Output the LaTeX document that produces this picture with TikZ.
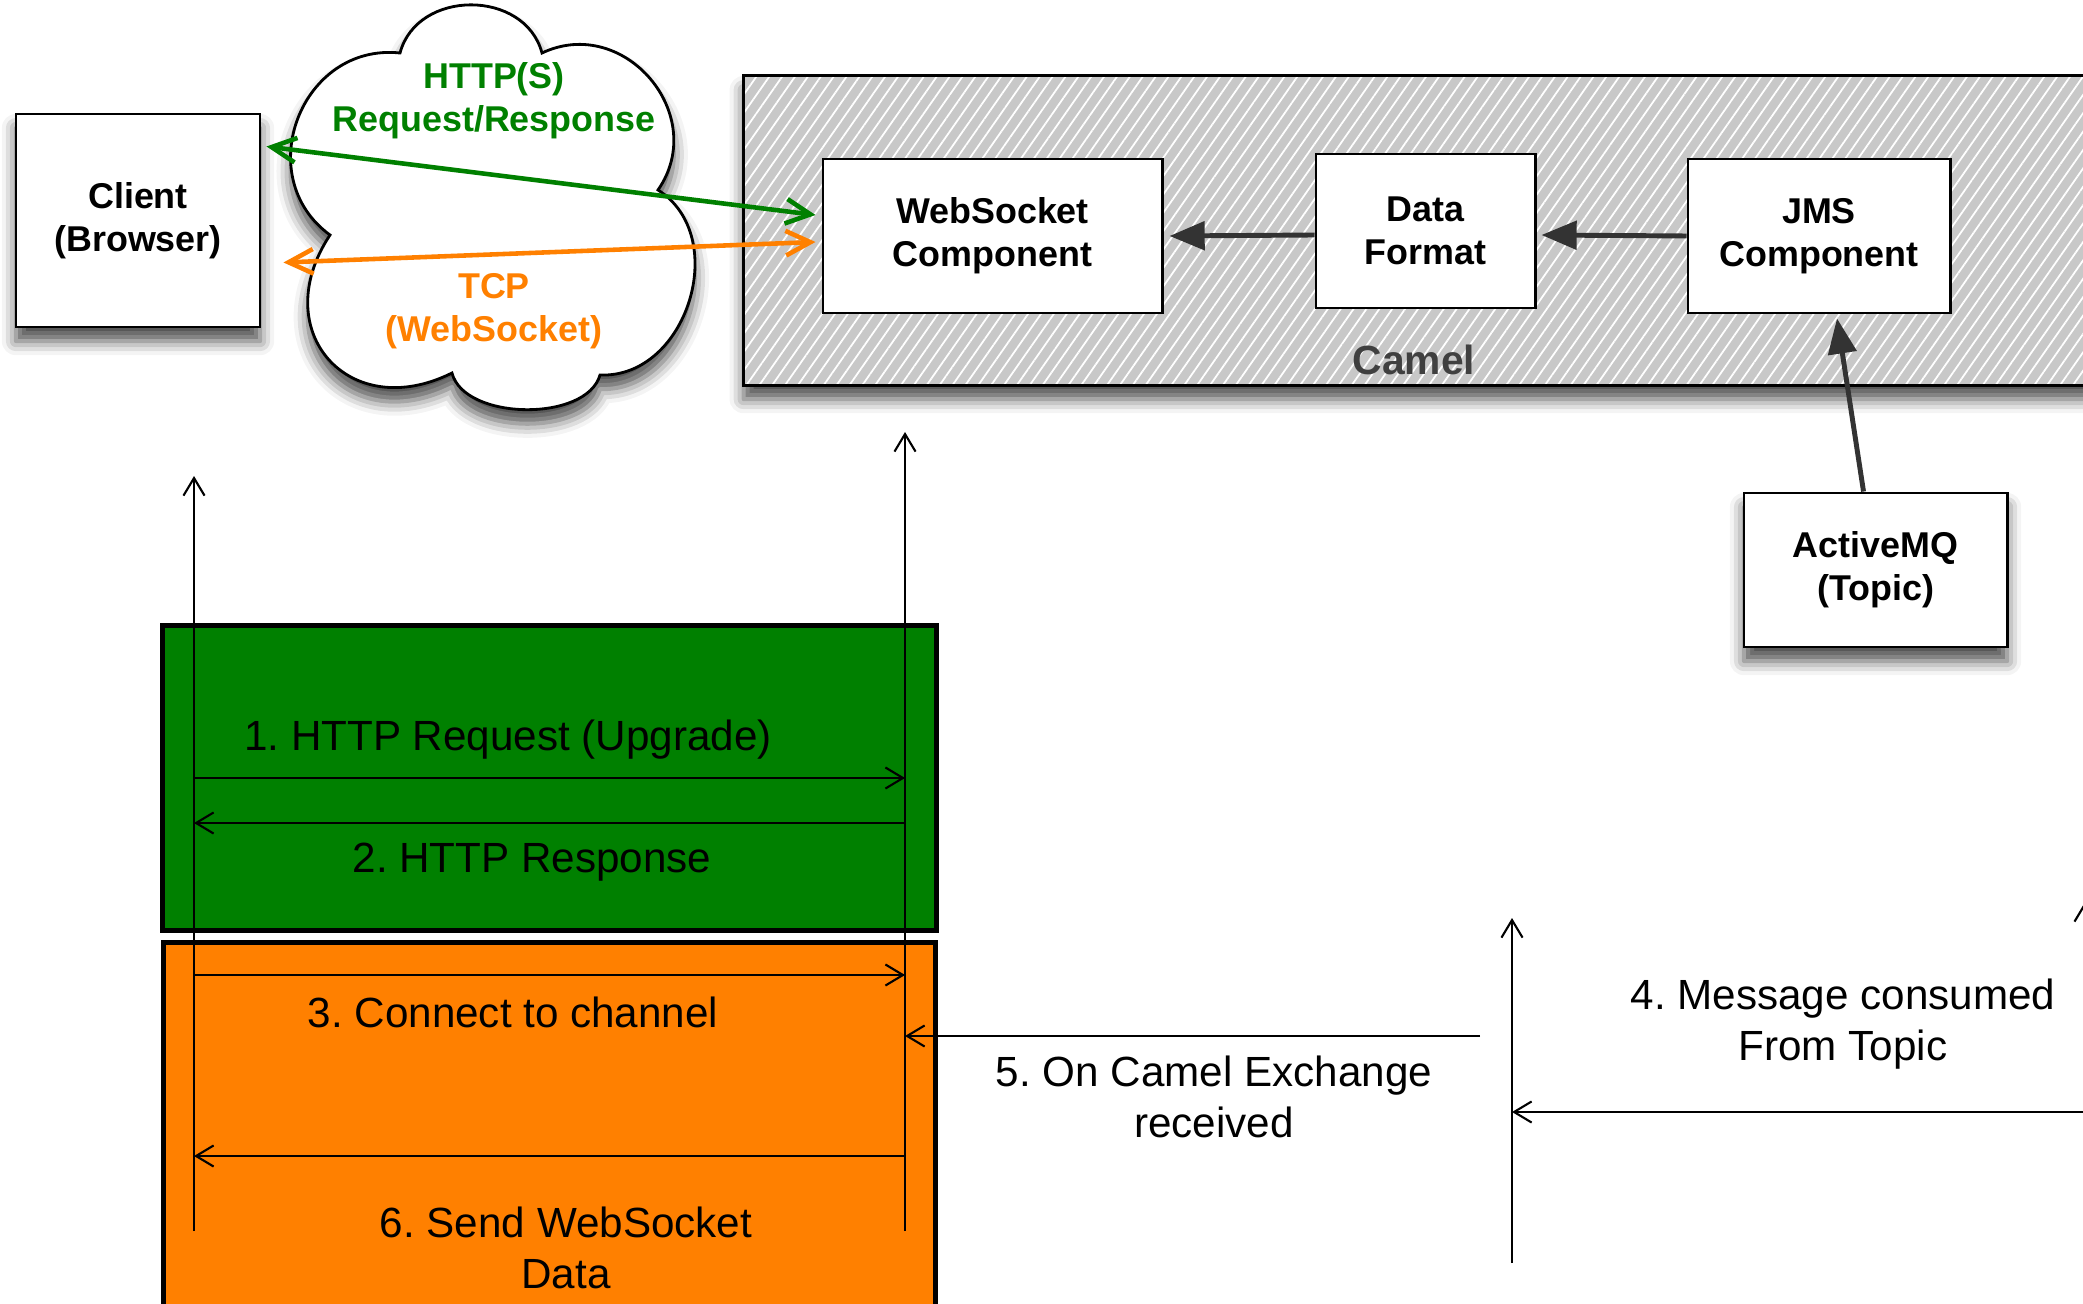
\documentclass[tikz,border=0pt]{standalone}
\usepackage{fontspec}
\setmainfont{Liberation Sans}
\usetikzlibrary{positioning, calc, arrows.meta, shadows.blur, patterns.meta}

\definecolor{linkgreen}{RGB}{0,128,0}
\definecolor{linkorange}{RGB}{255,128,0}
\definecolor{camelgray}{RGB}{200,200,200}
\definecolor{flowgray}{RGB}{51,51,51}
\definecolor{camelink}{RGB}{64,64,64}

\begin{document}
\frenchspacing
\begin{tikzpicture}[
        x=0.01cm, y=-0.01cm,
        comp/.style={
            % The shape:
            rectangle,
            % The border
            line width=0.8pt,
            draw=black,
            % The filling
            fill=white,
            % Font
            font=\fontsize{10.2}{12.3}\selectfont\bfseries,
            align=center,
            inner sep=0pt
        },
        shadowed/.style={
            blur shadow={shadow xshift=0pt, shadow yshift=-4pt,
                shadow blur radius=4pt, shadow opacity=70}
        },
        cloudline/.style={draw=black, line width=0.8pt, fill=white},
        camelbox/.style={
            draw=black,
            line width=0.9pt,
            preaction={fill=camelgray},
            pattern={Lines[angle=55, distance=3pt, line width=0.5pt]},
            pattern color=white
        },
        phase/.style={line width=1.4pt, draw=black, inner sep=0pt},
        msglabel/.style={font=\fontsize{12}{14.5}\selectfont, align=center},
        lifeline/.style={line width=0.6pt, -{Straight Barb[length=5pt, width=6pt]}},
        msg/.style={line width=0.6pt, -{Straight Barb[length=5pt, width=6pt]}},
        flow/.style={line width=1.4pt, draw=flowgray, -{Triangle[length=10pt, width=8pt]}},
        link/.style={line width=1.3pt,
            {Straight Barb[length=7pt, width=7pt]}-{Straight Barb[length=7pt, width=7pt]}}
    ]

        \useasboundingbox (0,0) rectangle (2083,1304);
        \clip (0,0) rectangle (2083,1304);

        % Top: client, network cloud and Camel
        \node [comp, shadowed, minimum width=2.44cm, minimum height=2.13cm] (client) at (138,220.5) {Client\\(Browser)};

        % the cloud, puff by puff
        \foreach \pname/\px/\py in {pa/330/235, pb/400/53, pc/542/53, pd/658/190, pe/600/375, pf/452/373}
            \coordinate (\pname) at (\px,\py);
        \draw [cloudline, shadowed] (pa) to[bend left=75, looseness=1.3] (pb)
            to[bend left=75, looseness=1.2] (pc)
            to[bend left=75, looseness=1.3] (pd)
            to[bend left=75, looseness=1.15] (pe)
            to[bend left=75, looseness=0.85] (pf)
            to[bend left=75, looseness=1.6] (pa) -- cycle;
        \node [font=\fontsize{10.2}{12.3}\selectfont\bfseries, text=linkgreen, align=center] (httplbl) at (494,101) {HTTP(S)\\Request/Response};
        \node [font=\fontsize{10.2}{12.3}\selectfont\bfseries, text=linkorange, align=center] (tcplbl) at (494,311) {TCP\\(WebSocket)};

        \node [shadowed, camelbox, minimum width=13.66cm, minimum height=3.09cm] (camel) at (1427,230.5) {};
        \node [font=\fontsize{11.6}{14}\selectfont\bfseries, text=camelink] (camellbl) at (1414,360) {Camel};

        \node [comp, minimum width=3.39cm, minimum height=1.54cm] (ws) at (992.5,236) {WebSocket\\Component};
        \node [comp, minimum width=2.19cm, minimum height=1.54cm] (data) at (1425.5,231) {Data\\Format};
        \node [comp, minimum width=2.62cm, minimum height=1.54cm] (jms) at (1819,236) {JMS\\Component};
        \node [comp, shadowed, minimum width=2.63cm, minimum height=1.54cm] (mq) at (1875.5,570) {ActiveMQ\\(Topic)};

        \draw [link, draw=linkgreen] ($(client.east)+(5,-74)$) -- ($(ws.west)+(-6,-21)$);
        \draw [link, draw=linkorange] ($(client.east)+(22,42)$) -- ($(ws.west)+(-6,6)$);

        \draw [flow] ($(data.west)+(0,4)$) -- ($(ws.east)+(6,0)$);
        \draw [flow] (jms.west) -- ($(data.east)+(5,4)$);
        \draw [flow] ($(mq.north)+(-12,0)$) -- ($(jms.south)+(18,4)$);

        % Bottom: the message sequence
        \node [phase, fill=linkgreen, minimum width=7.73cm, minimum height=3.04cm] (upgrade) at (549.5,778) {};
        \node [phase, fill=linkorange, minimum width=7.71cm, minimum height=3.87cm] (stream) at (549.5,1136.5) {};

        \foreach \lname/\lx/\ltop/\lbot in {cl/194/476/1231, wsl/905/432/1231, caml/1512/918/1263, mql/2085/902/1263}
        {
            \coordinate (\lname top) at (\lx,\ltop);
            \coordinate (\lname bot) at (\lx,\lbot);
            \draw [lifeline] (\lname bot) -- (\lname top);
        }

        \coordinate (exchange) at (1480,1036);

        \draw [msg] (cltop |- 0,778) -- (wsltop |- 0,778);
        \draw [msg] (wsltop |- 0,823) -- (cltop |- 0,823);
        \draw [msg] (cltop |- 0,975) -- (wsltop |- 0,975);
        \draw [msg] (mqltop |- 0,1112) -- (camltop |- 0,1112);
        \draw [msg] (exchange) -- (wsltop |- exchange);
        \draw [msg] (wsltop |- 0,1156) -- (cltop |- 0,1156);

        \node [msglabel] (reqlbl) at (508,740) {1. HTTP Request (Upgrade)};
        \node [msglabel] (resplbl) at (532,862) {2. HTTP Response};
        \node [msglabel] (connlbl) at (513,1012) {3. Connect to channel};
        \node [msglabel] (consumelbl) at (1843,1024) {4. Message consumed\\From Topic};
        \node [msglabel] (exchlbl) at (1214,1097) {5. On Camel Exchange\\received};
        \node [msglabel] (sendlbl) at (566,1248) {6. Send WebSocket\\Data};

    \end{tikzpicture}
\end{document}
